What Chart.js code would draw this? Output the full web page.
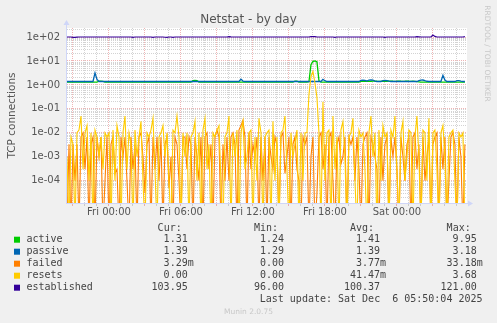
<!DOCTYPE html>
<html>
<head>
<meta charset="utf-8">
<title>Netstat - by day</title>
<script src="https://cdn.jsdelivr.net/npm/chart.js@4/dist/chart.umd.min.js"></script>
<style>
  html, body { margin: 0; padding: 0; background: #f0f0f0; }
</style>
</head>
<body>
<canvas id="myChart" width="497" height="323"></canvas>
<script>
// hours relative to Fri 00:00, one sample every 10 minutes from Thu 20:30
var startHour = -3.5
var stepHour = 10 / 60
var xMin = -3.5
var xMax = 29.84
var yMin = 1.17e-5
var yMax = 238

var xTickValues = [0, 6, 12, 18, 24]
var xTickLabels = ['Fri 00:00', 'Fri 06:00', 'Fri 12:00', 'Fri 18:00', 'Sat 00:00']
var yDecades = [1e-5, 1e-4, 1e-3, 1e-2, 1e-1, 1, 10, 100]
var yTickLabels = ['1e-05', '1e-04', '1e-03', '1e-02', '1e-01', '1e+00', '1e+01', '1e+02']

var active = [
  1.31, 1.31, 1.31, 1.31, 1.31, 1.31, 1.31, 1.31, 1.31, 1.31, 1.31, 1.31, 1.31, 1.31, 1.31, 1.31, 1.42, 1.45, 1.4, 1.31,
  1.31, 1.31, 1.31, 1.31, 1.31, 1.31, 1.31, 1.31, 1.31, 1.31, 1.31, 1.31, 1.31, 1.31, 1.31, 1.31, 1.31, 1.31, 1.31, 1.31,
  1.31, 1.31, 1.31, 1.31, 1.31, 1.31, 1.31, 1.31, 1.31, 1.31, 1.31, 1.31, 1.31, 1.31, 1.31, 1.31, 1.31, 1.31, 1.31, 1.31,
  1.31, 1.31, 1.31, 1.5, 1.55, 1.5, 1.31, 1.31, 1.31, 1.31, 1.31, 1.31, 1.31, 1.31, 1.31, 1.31, 1.31, 1.31, 1.31, 1.31,
  1.31, 1.31, 1.31, 1.31, 1.31, 1.31, 1.31, 1.31, 1.31, 1.31, 1.31, 1.31, 1.31, 1.31, 1.31, 1.31, 1.31, 1.31, 1.31, 1.31,
  1.31, 1.31, 1.31, 1.31, 1.31, 1.31, 1.31, 1.31, 1.31, 1.31, 1.31, 1.31, 1.31, 1.31, 1.42, 1.42, 1.31, 1.31, 1.31, 1.31,
  1.31, 1.35, 7.0, 9.6, 9.95, 9.2, 1.5, 1.31, 1.31, 1.31, 1.31, 1.31, 1.31, 1.31, 1.31, 1.31, 1.31, 1.31, 1.31, 1.31,
  1.31, 1.31, 1.31, 1.31, 1.31, 1.31, 1.31, 1.4, 1.42, 1.45, 1.42, 1.4, 1.42, 1.45, 1.45, 1.42, 1.4, 1.42, 1.45, 1.42,
  1.42, 1.45, 1.45, 1.42, 1.4, 1.42, 1.45, 1.42, 1.4, 1.42, 1.45, 1.42, 1.4, 1.42, 1.4, 1.38, 1.35, 1.31, 1.31, 1.31,
  1.31, 1.31, 1.31, 1.31, 1.31, 1.31, 1.31, 1.31, 1.31, 1.31, 1.31, 1.31, 1.31, 1.31, 1.31, 1.31, 1.31, 1.31, 1.31, 1.31
]
var passive = [
  1.39, 1.39, 1.39, 1.39, 1.39, 1.39, 1.39, 1.39, 1.39, 1.39, 1.39, 1.39, 1.39, 1.39, 3.18, 1.7, 1.39, 1.39, 1.39, 1.39,
  1.39, 1.39, 1.39, 1.39, 1.39, 1.39, 1.39, 1.39, 1.39, 1.39, 1.39, 1.39, 1.39, 1.39, 1.39, 1.39, 1.39, 1.39, 1.39, 1.39,
  1.39, 1.39, 1.39, 1.39, 1.39, 1.39, 1.39, 1.39, 1.39, 1.39, 1.39, 1.39, 1.39, 1.39, 1.39, 1.39, 1.39, 1.39, 1.39, 1.39,
  1.39, 1.39, 1.39, 1.39, 1.39, 1.39, 1.39, 1.39, 1.39, 1.39, 1.39, 1.39, 1.39, 1.39, 1.39, 1.39, 1.39, 1.39, 1.39, 1.39,
  1.39, 1.39, 1.39, 1.39, 1.39, 1.39, 1.39, 1.75, 1.45, 1.39, 1.39, 1.39, 1.39, 1.39, 1.39, 1.39, 1.39, 1.39, 1.39, 1.39,
  1.39, 1.39, 1.39, 1.39, 1.39, 1.39, 1.39, 1.39, 1.39, 1.39, 1.39, 1.39, 1.39, 1.39, 1.39, 1.39, 1.39, 1.39, 1.39, 1.39,
  1.39, 1.39, 1.39, 1.39, 1.39, 1.39, 1.39, 1.39, 1.7, 1.5, 1.39, 1.39, 1.39, 1.39, 1.39, 1.39, 1.39, 1.39, 1.39, 1.39,
  1.39, 1.39, 1.39, 1.39, 1.39, 1.39, 1.39, 1.55, 1.58, 1.55, 1.45, 1.6, 1.62, 1.6, 1.45, 1.39, 1.39, 1.39, 1.52, 1.55,
  1.52, 1.45, 1.39, 1.39, 1.39, 1.39, 1.39, 1.39, 1.39, 1.39, 1.39, 1.39, 1.39, 1.39, 1.39, 1.39, 1.5, 1.58, 1.6, 1.5,
  1.42, 1.39, 1.39, 1.39, 1.39, 1.39, 1.39, 1.39, 2.5, 1.6, 1.39, 1.39, 1.39, 1.39, 1.39, 1.5, 1.52, 1.45, 1.39, 1.39
]
var failed = [
  0, 3.3e-3, 0, 3.3e-3, 1e-4, 3.3e-3, 0, 6.7e-3, 1e-2, 3e-4, 6.7e-3, 0, 3.3e-3, 6.7e-3, 0, 6.7e-3, 1e-3, 6.7e-3, 0, 1e-4,
  6.7e-3, 0, 3.3e-3, 6.7e-3, 2e-4, 3e-4, 0, 6.7e-3, 1e-3, 6.7e-3, 1e-4, 0, 6.7e-3, 3e-4, 3.3e-3, 0, 6.7e-3, 1e-2, 1e-3, 3e-5,
  3.3e-3, 6.7e-3, 0, 6.7e-3, 3e-4, 6.7e-3, 1e-4, 6.7e-3, 0, 3.3e-3, 6.7e-3, 5e-5, 1e-3, 0, 6.7e-3, 3.3e-3, 1e-4, 0, 6.7e-3, 6.7e-3,
  3e-4, 6.7e-3, 3.3e-3, 0, 6.7e-3, 1e-3, 1e-4, 6.7e-3, 0, 6.7e-3, 1e-2, 3e-4, 3.3e-3, 0, 6.7e-3, 1.3e-2, 6.7e-3, 0, 3.3e-3, 1e-4,
  6.7e-3, 1e-4, 6.7e-3, 1e-2, 3.3e-3, 0, 1.3e-2, 2e-2, 3.3e-2, 6.7e-3, 0, 1e-2, 3e-4, 3.3e-3, 1e-3, 6.7e-3, 0, 6.7e-3, 1e-4, 6.7e-3,
  0, 6.7e-3, 1e-3, 3e-4, 6.7e-3, 3.3e-3, 0, 6.7e-3, 1e-2, 2e-4, 1e-3, 6.7e-3, 0, 3.3e-3, 6.7e-3, 3e-4, 1e-4, 0, 6.7e-3, 3.3e-3,
  6.7e-3, 0, 1e-3, 6.7e-3, 0, 3e-5, 6.7e-3, 1e-2, 3e-4, 3.3e-3, 0, 6.7e-3, 1e-2, 1e-4, 0, 3.3e-3, 6.7e-3, 5e-4, 1e-3, 6.7e-3,
  0, 6.7e-3, 3.3e-3, 6.7e-3, 1e-4, 6.7e-3, 3e-4, 0, 3.3e-3, 6.7e-3, 1e-2, 0, 6.7e-3, 3.3e-3, 1e-3, 3e-4, 0, 6.7e-3, 1e-4, 3.3e-3,
  6.7e-3, 0, 6.7e-3, 1e-3, 6.7e-3, 3e-4, 0, 6.7e-3, 1e-3, 1e-4, 3.3e-3, 6.7e-3, 0, 6.7e-3, 1e-2, 3e-4, 3.3e-3, 0, 6.7e-3, 1e-4,
  1e-3, 6.7e-3, 0, 3.3e-3, 6.7e-3, 1e-2, 0, 6.7e-3, 3e-4, 6.7e-3, 0, 1e-4, 6.7e-3, 1e-2, 3.3e-3, 0, 6.7e-3, 1e-3, 0, 3.3e-3
]
var resets = [
  1e-3, 0, 6.7e-3, 3.3e-3, 0, 1e-2, 1.3e-2, 5e-2, 3e-4, 1e-2, 2e-2, 1e-4, 1e-2, 0, 1.3e-2, 6.7e-3, 1e-3, 6.7e-3, 3e-4, 1e-2,
  6.7e-3, 1e-2, 0, 1.3e-2, 1e-4, 2e-2, 6.7e-3, 0, 1e-2, 5e-2, 3e-4, 1e-2, 3.3e-3, 0, 1.3e-2, 1e-3, 6.7e-3, 3e-2, 1e-4, 0,
  1e-2, 6.7e-3, 1.3e-2, 4e-2, 3e-4, 0, 6.7e-3, 1e-2, 2e-2, 1e-3, 1e-2, 1e-4, 0, 1.3e-2, 1e-2, 5e-2, 6.7e-3, 0, 1e-2, 1e-3,
  1e-2, 0, 6.7e-3, 1e-2, 3e-2, 1e-4, 1e-2, 0, 1.3e-2, 4e-2, 3e-4, 3.3e-3, 0, 1e-2, 6.7e-3, 1.3e-2, 2e-2, 1e-4, 0, 6.7e-3,
  1e-2, 5e-2, 0, 1e-2, 1e-3, 1.3e-2, 0, 1e-2, 3e-2, 3e-4, 1e-3, 1e-2, 1.3e-2, 0, 6.7e-3, 1e-4, 4e-2, 1e-2, 0, 6.7e-3,
  1e-2, 1.3e-2, 0, 3e-2, 1e-4, 6.7e-3, 0, 1e-2, 1.3e-2, 5e-2, 3e-4, 0, 1e-2, 1e-3, 3.3e-3, 1.3e-2, 0, 1e-2, 1e-4, 1e-2,
  1e-2, 0.4, 2.2, 3.68, 1.2, 0.3, 1e-2, 0, 0.2, 1e-4, 1e-2, 1.3e-2, 0, 5e-2, 3e-4, 6.7e-3, 0, 1.3e-2, 3e-2, 1e-3,
  0, 6.7e-3, 1e-2, 4e-2, 1e-4, 0, 1.3e-2, 6.7e-3, 1e-2, 3e-4, 0, 1e-2, 5e-2, 1e-3, 1e-2, 0, 1.3e-2, 1e-4, 2e-2, 6.7e-3,
  1e-2, 0, 1.3e-2, 6.7e-3, 5e-2, 3e-4, 0, 1e-2, 3e-2, 1e-4, 1e-3, 1.3e-2, 1e-2, 0, 6.7e-3, 5e-2, 1e-3, 0, 1.3e-2, 1e-2,
  1e-4, 4e-2, 0, 1e-2, 1.3e-2, 3e-4, 0, 1e-2, 2e-2, 1e-3, 0, 6.7e-3, 1e-2, 1.3e-2, 1e-4, 0, 1e-2, 6.7e-3, 1e-2, 0
]
var established = [
  100, 100, 100, 97, 96, 99, 100, 100, 100, 100, 100, 100, 100, 100, 100, 100, 100, 100, 100, 100,
  100, 100, 100, 100, 100, 100, 100, 100, 100, 100, 100, 100, 100, 97, 100, 100, 100, 100, 100, 100,
  100, 100, 100, 97, 100, 100, 100, 100, 100, 98, 96, 100, 100, 97, 100, 100, 100, 100, 100, 100,
  100, 100, 100, 100, 100, 100, 100, 100, 100, 100, 100, 100, 100, 100, 100, 100, 100, 100, 100, 100,
  100, 103, 101, 100, 100, 100, 100, 100, 100, 100, 100, 100, 100, 100, 100, 100, 100, 100, 100, 100,
  100, 100, 100, 100, 100, 100, 100, 100, 100, 100, 100, 100, 100, 100, 100, 100, 100, 100, 100, 100,
  100, 100, 104, 104, 103, 100, 100, 100, 100, 100, 100, 100, 100, 100, 97, 100, 100, 100, 100, 100,
  100, 100, 100, 100, 100, 100, 100, 100, 100, 100, 100, 100, 100, 100, 100, 100, 100, 100, 100, 97,
  100, 100, 100, 100, 100, 100, 100, 100, 100, 100, 100, 100, 100, 100, 100, 104, 102, 100, 100, 100,
  100, 100, 100, 121, 106, 100, 100, 100, 100, 100, 100, 100, 100, 100, 100, 100, 100, 100, 100, 104
]

var seriesNames = ['active', 'passive', 'failed', 'resets', 'established']
var seriesColors = ['#00cc00', '#0066b3', '#ff8000', '#ffcc00', '#330099']
var curValues = ['1.31', '1.39', '3.29m', '0.00', '103.95']
var minValues = ['1.24', '1.29', '0.00', '0.00', '96.00']
var avgValues = ['1.41', '1.39', '3.77m', '41.47m', '100.37']
var maxValues = ['9.95', '3.18', '33.18m', '3.68', '121.00']
var lastUpdate = 'Last update: Sat Dec  6 05:50:04 2025'

var times = active.map((v, i) => startHour + i * stepHour)

// zero can not sit on a log axis, push it below the bottom like rrdtool does
function points(values) {
  return values.map((v, i) => ({ x: times[i], y: v > 0 ? v : 1e-6 }))
}

var hourTicks = []
for (var h = Math.ceil(xMin); h <= xMax; h++) hourTicks.push(h)

var yGridTicks = []
yDecades.forEach(d => {
  for (var m = 1; m <= 9; m++) {
    var v = m * d
    if (v >= yMin && v <= yMax) yGridTicks.push(v)
  }
})

function isDecade(v) {
  return yDecades.some(d => Math.abs(v / d - 1) < 1e-9)
}

var majorGrid = 'rgba(215, 60, 60, 0.38)'
var minorGrid = 'rgba(140, 140, 140, 0.38)'
var axisColor = '#cfd6f8'
var fontColor = '#555555'

var muninDecor = {
  id: 'muninDecor',
  beforeDraw: function(chart) {
    var c = chart.ctx, a = chart.chartArea
    c.save()
    c.fillStyle = '#f0f0f0'
    c.fillRect(0, 0, chart.width, chart.height)
    c.fillStyle = '#ffffff'
    c.fillRect(a.left, a.top, a.right - a.left, a.bottom - a.top)
    c.restore()
  },
  afterDraw: function(chart) {
    var c = chart.ctx, a = chart.chartArea
    c.save()

    // axes with arrows
    c.strokeStyle = axisColor
    c.fillStyle = axisColor
    c.lineWidth = 1
    c.beginPath()
    c.moveTo(a.left - 0.5, a.bottom + 1)
    c.lineTo(a.left - 0.5, a.top - 3)
    c.moveTo(a.left - 1, a.bottom + 0.5)
    c.lineTo(a.right + 1, a.bottom + 0.5)
    c.stroke()
    c.beginPath()
    c.moveTo(a.left - 3.5, a.top - 3)
    c.lineTo(a.left + 2.5, a.top - 3)
    c.lineTo(a.left - 0.5, a.top - 8)
    c.closePath()
    c.fill()
    c.beginPath()
    c.moveTo(a.right + 1, a.bottom - 2.5)
    c.lineTo(a.right + 1, a.bottom + 3.5)
    c.lineTo(a.right + 6, a.bottom + 0.5)
    c.closePath()
    c.fill()

    // title and axis label
    c.fillStyle = fontColor
    c.textAlign = 'center'
    c.textBaseline = 'alphabetic'
    c.font = '12px "DejaVu Sans"'
    c.fillText('Netstat - by day', 248.5, 23)

    c.save()
    c.translate(12.5, (a.top + a.bottom) / 2)
    c.rotate(-Math.PI / 2)
    c.textBaseline = 'middle'
    c.font = '10.5px "DejaVu Sans"'
    c.fillText('TCP connections', 0, 0)
    c.restore()

    c.save()
    c.translate(487, 53.5)
    c.rotate(Math.PI / 2)
    c.textBaseline = 'middle'
    c.fillStyle = '#c8c8c8'
    c.font = '7.5px "DejaVu Sans"'
    c.fillText('RRDTOOL / TOBI OETIKER', 0, 0)
    c.restore()

    // legend table
    var cols = [curValues, minValues, avgValues, maxValues]
    var heads = ['Cur:', 'Min:', 'Avg:', 'Max:']
    var colRight = [187.7, 284, 380, 476.7]
    c.font = '10px "DejaVu Sans Mono"'
    c.textBaseline = 'middle'
    c.fillStyle = '#444444'
    c.textAlign = 'right'
    heads.forEach((t, k) => c.fillText(t, colRight[k] - 6, 228))

    seriesNames.forEach((name, i) => {
      var y = 239.7 + i * 12
      c.fillStyle = seriesColors[i]
      c.fillRect(14, y - 3, 6, 6)
      c.fillStyle = '#444444'
      c.textAlign = 'left'
      c.fillText(name, 26.5, y)
      cols.forEach((col, k) => {
        var s = col[i]
        var suffix = s.endsWith('m') ? 'm' : ''
        c.textAlign = 'right'
        c.fillText(suffix ? s.slice(0, -1) : s, colRight[k], y)
        if (suffix) {
          c.textAlign = 'left'
          c.fillText(suffix, colRight[k], y)
        }
      })
    })
    c.textAlign = 'right'
    c.fillText(lastUpdate, 482.5, 299.5)

    c.textAlign = 'center'
    c.fillStyle = '#c8c8c8'
    c.font = '7.5px "DejaVu Sans"'
    c.fillText('Munin 2.0.75', 248.5, 312)
    c.restore()
  }
}

function lineSet(label, values, color, width, order) {
  return {
    label: label,
    data: points(values),
    borderColor: color,
    backgroundColor: color,
    borderWidth: width,
    pointRadius: 0,
    tension: 0,
    fill: false,
    order: order
  }
}

var ctx = document.getElementById('myChart').getContext('2d')
var chartOne = new Chart(ctx, {
  type: 'line',
  data: {
    datasets: [
      lineSet('active', active, seriesColors[0], 1.3, 5),
      lineSet('passive', passive, seriesColors[1], 1.3, 4),
      lineSet('failed', failed, seriesColors[2], 1.1, 3),
      lineSet('resets', resets, seriesColors[3], 1.1, 2),
      lineSet('established', established, seriesColors[4], 1.2, 1)
    ]
  },
  options: {
    responsive: false,
    animation: false,
    layout: { padding: { top: 28, right: 30, left: 0, bottom: 0 } },
    plugins: {
      legend: { display: false },
      tooltip: { enabled: false },
      title: { display: false }
    },
    scales: {
      x: {
        type: 'linear',
        min: xMin,
        max: xMax,
        bounds: 'data',
        afterBuildTicks: s => { s.ticks = hourTicks.map(v => ({ value: v })) },
        afterFit: s => { s.height = 120 },
        grid: {
          color: c => (c.tick && c.tick.value % 3 === 0) ? majorGrid : minorGrid,
          lineWidth: 1,
          drawTicks: true,
          tickLength: 3
        },
        border: { display: false, dash: [1, 1] },
        ticks: {
          autoSkip: false,
          maxRotation: 0,
          padding: 0,
          color: fontColor,
          font: { family: 'DejaVu Sans', size: 10 },
          callback: v => {
            var k = xTickValues.indexOf(v)
            return k >= 0 ? xTickLabels[k] : ''
          }
        }
      },
      y: {
        type: 'logarithmic',
        min: yMin,
        max: yMax,
        bounds: 'data',
        afterBuildTicks: s => { s.ticks = yGridTicks.map(v => ({ value: v })) },
        afterFit: s => { s.width = 67 },
        grid: {
          color: c => (c.tick && isDecade(c.tick.value)) ? majorGrid : minorGrid,
          lineWidth: 1,
          drawTicks: false
        },
        border: { display: false, dash: [1, 1] },
        ticks: {
          autoSkip: false,
          padding: 7,
          color: fontColor,
          font: { family: 'DejaVu Sans', size: 10 },
          callback: v => {
            var k = yDecades.findIndex(d => Math.abs(v / d - 1) < 1e-9)
            return k >= 0 ? yTickLabels[k] : ''
          }
        }
      }
    }
  },
  plugins: [muninDecor]
})
</script>
</body>
</html>
